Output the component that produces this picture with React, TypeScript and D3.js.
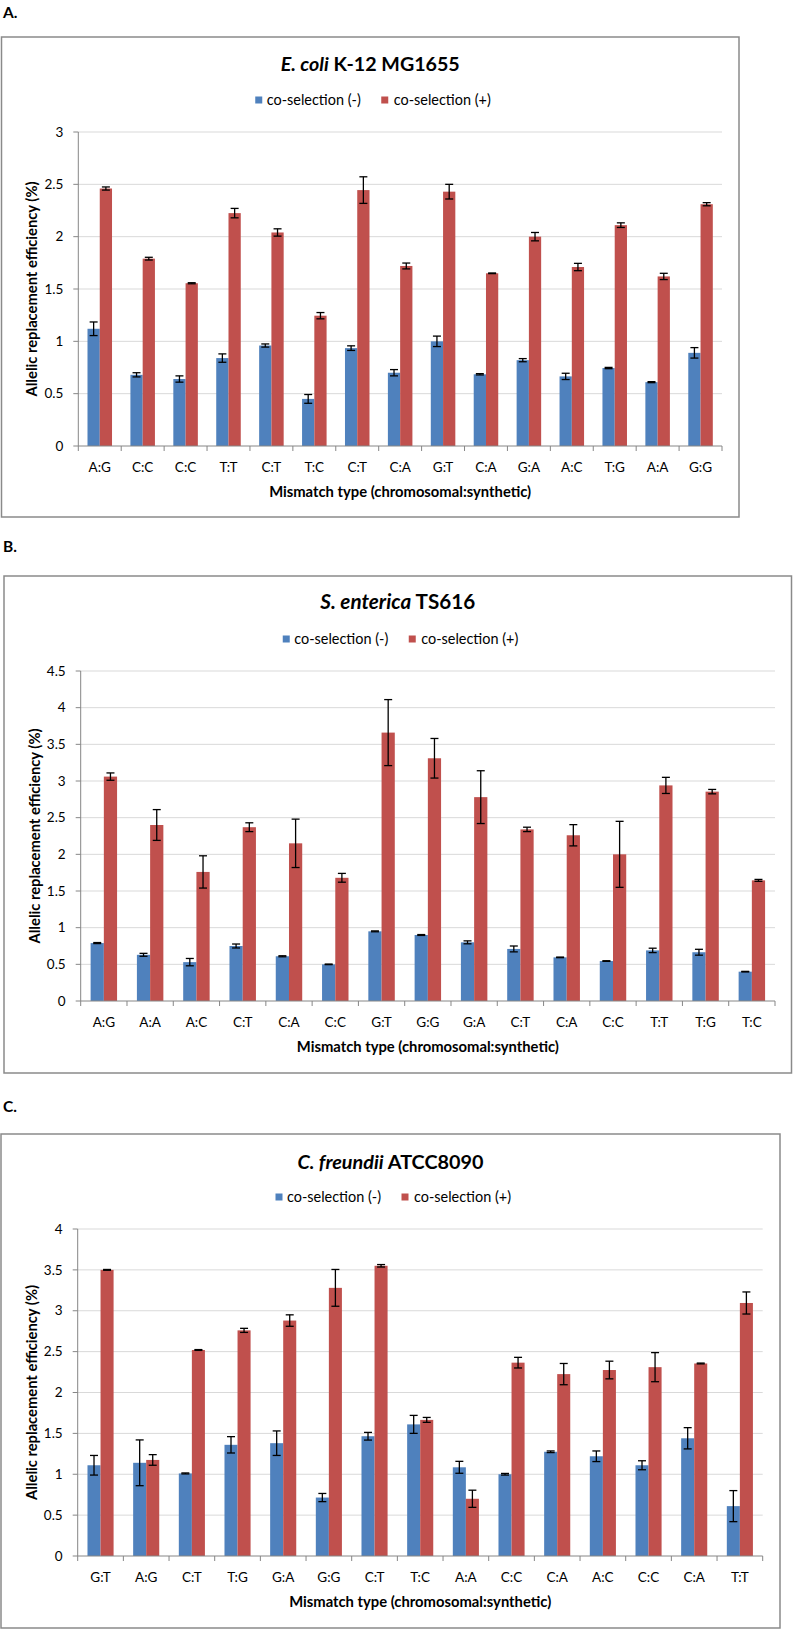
import React, { useEffect, useLayoutEffect, useRef, useState } from 'react';
import * as d3 from 'd3';

const FONT = "Lato, 'Open Sans', sans-serif";

const seriesNames = ['co-selection (-)', 'co-selection (+)'];
const seriesColors = ['#4F81BD', '#C0504D'];
const xAxisTitle = 'Mismatch type (chromosomal:synthetic)';
const yAxisTitle = 'Allelic replacement efficiency (%)';

// Panel A: E. coli K-12 MG1655
const ecoliCategories = ['A:G', 'C:C', 'C:C', 'T:T', 'C:T', 'T:C', 'C:T', 'C:A', 'G:T', 'C:A', 'G:A', 'A:C', 'T:G', 'A:A', 'G:G'];
const ecoliMinus = [1.12, 0.68, 0.64, 0.84, 0.96, 0.45, 0.935, 0.7, 1.0, 0.685, 0.82, 0.665, 0.745, 0.61, 0.89];
const ecoliMinusErr = [0.065, 0.02, 0.03, 0.04, 0.015, 0.042, 0.022, 0.03, 0.05, 0.006, 0.015, 0.03, 0.006, 0.005, 0.05];
const ecoliPlus = [2.46, 1.79, 1.555, 2.225, 2.04, 1.245, 2.445, 1.72, 2.43, 1.65, 2.0, 1.71, 2.11, 1.62, 2.31];
const ecoliPlusErr = [0.015, 0.013, 0.005, 0.045, 0.035, 0.03, 0.127, 0.028, 0.07, 0.003, 0.04, 0.035, 0.022, 0.03, 0.015];
const ecoliTicks = [0, 0.5, 1, 1.5, 2, 2.5, 3];

// Panel B: S. enterica TS616
const entericaCategories = ['A:G', 'A:A', 'A:C', 'C:T', 'C:A', 'C:C', 'G:T', 'G:G', 'G:A', 'C:T', 'C:A', 'C:C', 'T:T', 'T:G', 'T:C'];
const entericaMinus = [0.79, 0.63, 0.53, 0.75, 0.61, 0.5, 0.95, 0.9, 0.8, 0.71, 0.595, 0.545, 0.69, 0.665, 0.4];
const entericaMinusErr = [0.007, 0.02, 0.05, 0.027, 0.007, 0.004, 0.006, 0.006, 0.02, 0.04, 0.004, 0.004, 0.03, 0.04, 0.004];
const entericaPlus = [3.06, 2.4, 1.76, 2.37, 2.15, 1.68, 3.66, 3.31, 2.78, 2.34, 2.26, 2.0, 2.94, 2.855, 1.645];
const entericaPlusErr = [0.05, 0.21, 0.22, 0.06, 0.33, 0.06, 0.45, 0.27, 0.36, 0.03, 0.145, 0.45, 0.11, 0.03, 0.013];
const entericaTicks = [0, 0.5, 1, 1.5, 2, 2.5, 3, 3.5, 4, 4.5];

// Panel C: C. freundii ATCC8090
const freundiiCategories = ['G:T', 'A:G', 'C:T', 'T:G', 'G:A', 'G:G', 'C:T', 'T:C', 'A:A', 'C:C', 'C:A', 'A:C', 'C:C', 'C:A', 'T:T'];
const freundiiMinus = [1.11, 1.14, 1.01, 1.36, 1.38, 0.715, 1.465, 1.61, 1.085, 1.0, 1.275, 1.22, 1.11, 1.44, 0.61];
const freundiiMinusErr = [0.12, 0.28, 0.006, 0.1, 0.15, 0.05, 0.047, 0.11, 0.073, 0.01, 0.01, 0.065, 0.055, 0.13, 0.19];
const freundiiPlus = [3.5, 1.175, 2.52, 2.76, 2.88, 3.28, 3.55, 1.665, 0.7, 2.365, 2.225, 2.275, 2.31, 2.355, 3.095];
const freundiiPlusErr = [0.005, 0.065, 0.005, 0.025, 0.07, 0.225, 0.015, 0.03, 0.105, 0.065, 0.13, 0.108, 0.178, 0.005, 0.135];
const freundiiTicks = [0, 0.5, 1, 1.5, 2, 2.5, 3, 3.5, 4];

type Layout = {
  label: string;
  labelY: number;
  frame: [number, number, number, number];
  titleY: number;
  titleWidth: number;
  legendY: number;
  plot: [number, number, number, number];
};

// Text whose font size is fitted so that its rendered width equals a target width.
function FitText({ target, base, children, ...rest }: any) {
  const ref = useRef<SVGTextElement>(null);
  const [size, setSize] = useState<number>(base);
  useLayoutEffect(() => {
    let alive = true;
    const measure = () => {
      const el = ref.current;
      if (!el || !alive) return;
      const probe = el.cloneNode(true) as SVGTextElement;
      probe.removeAttribute('textLength');
      probe.removeAttribute('lengthAdjust');
      probe.setAttribute('font-size', String(base));
      probe.setAttribute('visibility', 'hidden');
      el.parentNode && el.parentNode.appendChild(probe);
      const w = probe.getComputedTextLength();
      probe.remove();
      if (w > 0) setSize((base * target) / w);
    };
    measure();
    if ((document as any).fonts && (document as any).fonts.ready) {
      (document as any).fonts.ready.then(measure);
    }
    const t1 = setTimeout(measure, 50);
    return () => {
      alive = false;
      clearTimeout(t1);
    };
  }, [target, base]);
  return (
    <text ref={ref} fontSize={size} textLength={target} lengthAdjust="spacingAndGlyphs" {...rest}>
      {children}
    </text>
  );
}

type PanelProps = {
  layout: Layout;
  titleItalic: string;
  titleRest: string;
  categories: string[];
  minus: number[];
  minusErr: number[];
  plus: number[];
  plusErr: number[];
  ticks: number[];
};

const TICK_SIZE = 13.5;

function Panel({ layout, titleItalic, titleRest, categories, minus, minusErr, plus, plusErr, ticks }: PanelProps) {
  const [fx0, fy0, fx1, fy1] = layout.frame;
  const [px0, pyTop, px1, pyBot] = layout.plot;
  const cx = (fx0 + fx1) / 2;
  const x = d3.scaleBand<number>().domain(categories.map((_, i) => i)).range([px0, px1]).paddingInner(0).paddingOuter(0);
  const inner = d3.scaleBand<number>().domain([0, 1]).range([0, x.bandwidth()]).paddingInner(0).paddingOuter(0.75);
  const yMax = ticks[ticks.length - 1];
  const y = d3.scaleLinear().domain([0, yMax]).range([pyBot, pyTop]);
  const series = [
    { vals: minus, errs: minusErr },
    { vals: plus, errs: plusErr },
  ];
  const boundaries = d3.range(categories.length + 1).map((i) => px0 + i * x.step());
  const plotCx = (px0 + px1) / 2;
  const plotCy = (pyTop + pyBot) / 2;
  const legendWidths = [94, 97];
  return (
    <g>
      <text x={3} y={layout.labelY} dy="0.35em" fontFamily={FONT} fontWeight="bold" fontSize={15.5} fill="#000">
        {layout.label}
      </text>
      <rect x={fx0} y={fy0} width={fx1 - fx0} height={fy1 - fy0} fill="#fff" stroke="#8a8a8a" strokeWidth={1.5} />
      <FitText target={layout.titleWidth} base={20} x={cx - layout.titleWidth / 2} y={layout.titleY} dy="0.35em" fontFamily={FONT} fontWeight="bold" fill="#000">
        <tspan fontStyle="italic">{titleItalic}</tspan>
        <tspan>{titleRest}</tspan>
      </FitText>
      {seriesNames.map((name, si) => {
        const sqX = si === 0 ? cx - 115 : cx + 11;
        const txX = si === 0 ? cx - 103.5 : cx + 23.5;
        return (
          <g key={name}>
            <rect x={sqX} y={layout.legendY - 3.5} width={7} height={7} fill={seriesColors[si]} />
            <FitText target={legendWidths[si]} base={14} x={txX} y={layout.legendY} dy="0.35em" fontFamily={FONT} fill="#000">
              {name}
            </FitText>
          </g>
        );
      })}
      {ticks.filter((t) => t > 0).map((t) => (
        <line key={'g' + t} x1={px0} x2={px1} y1={y(t)} y2={y(t)} stroke="#d9d9d9" strokeWidth={1} />
      ))}
      <line x1={px0} x2={px0} y1={pyTop} y2={pyBot} stroke="#868686" strokeWidth={1} />
      {ticks.map((t) => (
        <g key={'t' + t}>
          <line x1={px0 - 5} x2={px0} y1={y(t)} y2={y(t)} stroke="#868686" strokeWidth={1} />
          <text x={px0 - 15} y={y(t)} dy="0.35em" textAnchor="end" fontFamily={FONT} fontSize={TICK_SIZE} fill="#000">
            {String(t)}
          </text>
        </g>
      ))}
      {series.map((s, si) =>
        s.vals.map((v, i) => {
          const bx = (x(i) as number) + (inner(si) as number);
          return <rect key={`b${si}-${i}`} x={bx} y={y(v)} width={inner.bandwidth()} height={pyBot - y(v)} fill={seriesColors[si]} />;
        })
      )}
      {series.map((s, si) =>
        s.vals.map((v, i) => {
          const bcx = (x(i) as number) + (inner(si) as number) + inner.bandwidth() / 2;
          const e = s.errs[i];
          const yT = y(v + e);
          const yB = y(v - e);
          return (
            <g key={`e${si}-${i}`} stroke="#000" strokeWidth={1.3}>
              <line x1={bcx} x2={bcx} y1={yT} y2={yB} />
              <line x1={bcx - 4} x2={bcx + 4} y1={yT} y2={yT} />
              <line x1={bcx - 4} x2={bcx + 4} y1={yB} y2={yB} />
            </g>
          );
        })
      )}
      <line x1={px0} x2={px1} y1={pyBot} y2={pyBot} stroke="#868686" strokeWidth={1} />
      {boundaries.map((bx, i) => (
        <line key={'xt' + i} x1={bx} x2={bx} y1={pyBot} y2={pyBot + 5} stroke="#868686" strokeWidth={1} />
      ))}
      {categories.map((c, i) => (
        <text key={'xl' + i} x={(x(i) as number) + x.bandwidth() / 2} y={pyBot + 21} dy="0.35em" textAnchor="middle" fontFamily={FONT} fontSize={TICK_SIZE} fill="#000">
          {c}
        </text>
      ))}
      <FitText target={262} base={15} x={plotCx - 131} y={pyBot + 46} dy="0.35em" fontFamily={FONT} fontWeight="bold" fill="#000">
        {xAxisTitle}
      </FitText>
      <FitText
        target={215}
        base={15}
        transform={`translate(${px0 - 46},${plotCy}) rotate(-90)`}
        x={-107.5}
        dy="0.35em"
        fontFamily={FONT}
        fontWeight="bold"
        fill="#000"
      >
        {yAxisTitle}
      </FitText>
    </g>
  );
}

const layoutA: Layout = { label: 'A.', labelY: 13, frame: [1.5, 37, 739, 517], titleY: 64, titleWidth: 179, legendY: 100, plot: [78.3, 132, 722, 446] };
const layoutB: Layout = { label: 'B.', labelY: 547, frame: [4, 576, 791.5, 1073], titleY: 602, titleWidth: 155, legendY: 639, plot: [80.7, 671, 775, 1001] };
const layoutC: Layout = { label: 'C.', labelY: 1107, frame: [1, 1134, 780, 1628], titleY: 1162, titleWidth: 186, legendY: 1197, plot: [77.7, 1229, 762.7, 1556] };

export default function App() {
  useEffect(() => {
    document.body.style.margin = '0';
  }, []);
  return (
    <svg width={793} height={1629} style={{ position: 'absolute', left: 0, top: 0, background: '#fff' }}>
      <rect x={0} y={0} width={793} height={1629} fill="#fff" />
      <Panel layout={layoutA} titleItalic="E. coli" titleRest=" K-12 MG1655" categories={ecoliCategories} minus={ecoliMinus} minusErr={ecoliMinusErr} plus={ecoliPlus} plusErr={ecoliPlusErr} ticks={ecoliTicks} />
      <Panel layout={layoutB} titleItalic="S. enterica" titleRest=" TS616" categories={entericaCategories} minus={entericaMinus} minusErr={entericaMinusErr} plus={entericaPlus} plusErr={entericaPlusErr} ticks={entericaTicks} />
      <Panel layout={layoutC} titleItalic="C. freundii" titleRest=" ATCC8090" categories={freundiiCategories} minus={freundiiMinus} minusErr={freundiiMinusErr} plus={freundiiPlus} plusErr={freundiiPlusErr} ticks={freundiiTicks} />
    </svg>
  );
}
